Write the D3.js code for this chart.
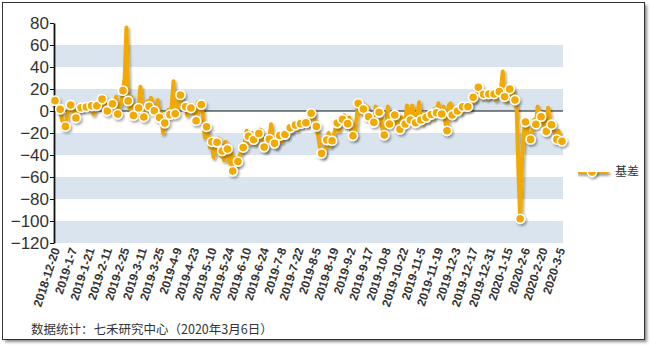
<!DOCTYPE html>
<html>
<head>
<meta charset="utf-8">
<script src="https://cdn.jsdelivr.net/npm/d3@7"></script>
<style>
  html, body { margin: 0; padding: 0; background: #fff; }
  svg { display: block; }
</style>
</head>
<body>
<svg id="chart" width="651" height="347"></svg>
<script>
// Category axis labels, one every ten trading days
const tickLabels = [
  "2018-12-20", "2019-1-7", "2019-1-21", "2019-2-11", "2019-2-25", "2019-3-11",
  "2019-3-25", "2019-4-9", "2019-4-23", "2019-5-10", "2019-5-24", "2019-6-10",
  "2019-6-24", "2019-7-8", "2019-7-22", "2019-8-5", "2019-8-19", "2019-9-2",
  "2019-9-17", "2019-10-8", "2019-10-22", "2019-11-5", "2019-11-19", "2019-12-3",
  "2019-12-17", "2019-12-31", "2020-1-15", "2020-2-6", "2020-2-20", "2020-3-5"
];
const tickStep = 10;

// Daily basis values (trading days, 2018-12-20 .. 2020-3-6)
const basis = [
  9.4, 5, 3, 1.6, -8, -12, -14, -4, 2, 5.5,
  1, -2, -6.3, -1, 4, 3, 1, 5, 3.7, 2,
  6, 4.7, -3, 2, 4.7, 7, 5, 10.8, 4, 7,
  0, 3, 1, 6.5, 2, 13, -2.8, 4, 8, 18.5,
  30, 76, 9.2, 2, 13, -4, 5, -2, 2.7, 22,
  3, -5.5, 0, 9, 4.3, 12, 6, 0.2, 3, 10,
  -6, -2, -20, -11, -6, 1, -3.3, 5, 27, -2.5,
  3, 8, 14.6, 9, 6, 3.9, -4, 6, 2.7, -2,
  1, -8.8, 8, 0, 5.8, -5, -24, -14.3, -22, -33,
  -28, -42, -35, -28.5, -25, -40, -36.3, -45, -28, -34.5,
  -47, -38, -54.6, -42, -50, -46, -40, -38, -33.2, -28,
  -18, -23, -30, -20, -26, -30, -24, -20.5, -17, -26,
  -32.8, -36, -30, -25.6, -12, -22, -29.4, -33, -26, -22.3,
  -28, -19, -21.4, -24, -18, -15.3, -19, -11, -12.8, -17,
  -9, -11.5, -14, -8, -10.7, -13, -5, -2, 0, -8,
  -14, -22, -32, -38.5, -41, -34, -26.4, -20, -32, -27,
  -22, -16, -11, -18, -10, -7.6, -4, -14, -11.5, -6,
  -19, -22.6, -24, -8, 7, 4, -2, 1.8, 5, 4,
  -5.2, -9, -4, -10.3, 4, -3, -1.2, -6, -17, -21.9,
  -14, 4, -11.8, -7, -12, -3.6, -9, -13, -16.7, -6,
  -15, -11.8, 5, -10, -8.2, 5, -6, -10.7, -3, 8,
  -8.2, -12, -2, -6, -9, -1, -3.2, -7, 2, -1.6,
  7, -4, -2.7, 4, -10, -18, 5, 7, -3.6, -6,
  2, 0, 1, -2, 3.9, 6, 1, 3.9, 2, 8,
  12.5, 9, 16, 21.6, 17, 12, 15.2, 18, 11, 15.5,
  13, 17, 15.5, 10, 14, 17.6, 20, 36, 13, 9,
  15, 20, 14, 18, 10, 2, -55, -98, -45, -20,
  -10, -15, -28, -25.8, -18, -8, -12, 4, -2, -5.2,
  -10, -14, -18.5, 3, -6, -12.5, -16, -20, -25.8, -18,
  -24, -27.5
];
const markerEvery = 3;

const yTicks = [-120, -100, -80, -60, -40, -20, 0, 20, 40, 60, 80];
const seriesName = "基差";
const sourceNote = "数据统计：七禾研究中心（2020年3月6日）";

const COLOR = "#F2A900";
const BAND = "#DAE4EF";

const svg = d3.select("#chart");

const plot = { left: 54, right: 563, top: 23, bottom: 243 };

const x = d3.scaleLinear().domain([0, basis.length - 1]).range([55, 562]);
const y = d3.scaleLinear().domain([-120, 80]).range([plot.bottom, plot.top]);

// drop shadows (user-space region so flat shapes keep their shadow)
const defs = svg.append("defs");
const sh = defs.append("filter").attr("id", "shadow")
  .attr("filterUnits", "userSpaceOnUse")
  .attr("x", 0).attr("y", 0).attr("width", 651).attr("height", 347);
sh.append("feDropShadow").attr("dx", 1.5).attr("dy", 2).attr("stdDeviation", 1.2)
  .attr("flood-color", "#000").attr("flood-opacity", 0.35);
const fs = defs.append("filter").attr("id", "frameShadow")
  .attr("x", "-5%").attr("y", "-5%").attr("width", "110%").attr("height", "110%");
fs.append("feGaussianBlur").attr("stdDeviation", 1.5);

// outer frame
svg.append("rect").attr("x", 5).attr("y", 5).attr("width", 642).attr("height", 337)
  .attr("fill", "#8a8a8a").attr("filter", "url(#frameShadow)");
svg.append("rect").attr("x", 2.5).attr("y", 2.5).attr("width", 642).attr("height", 337)
  .attr("fill", "#fff").attr("stroke", "#333").attr("stroke-width", 1);

// alternating horizontal bands
const bandStarts = d3.range(-120, 80, 40);
svg.append("g").selectAll("rect").data(bandStarts).join("rect")
  .attr("x", plot.left).attr("width", plot.right - plot.left)
  .attr("y", d => y(d + 20)).attr("height", d => y(d) - y(d + 20))
  .attr("fill", BAND);

// zero line
svg.append("line")
  .attr("x1", plot.left).attr("x2", plot.right)
  .attr("y1", y(0)).attr("y2", y(0))
  .attr("stroke", "#111").attr("stroke-width", 1.2);

// y axis
const yAxis = svg.append("g").attr("transform", `translate(${plot.left},0)`)
  .call(d3.axisLeft(y).tickValues(yTicks).tickSize(4).tickPadding(1).tickSizeOuter(0));
yAxis.select(".domain").attr("stroke", "#111").attr("stroke-width", 1.8);
yAxis.selectAll(".tick line").attr("stroke", "#111");
yAxis.selectAll("text")
  .attr("font-family", "'Liberation Sans', Arial, sans-serif")
  .attr("font-size", 17).attr("fill", "#333");

// x category labels
svg.append("g").selectAll("text").data(tickLabels).join("text")
  .attr("transform", (d, i) => `translate(${x(i * tickStep) + 1},${plot.bottom + 5}) rotate(-72)`)
  .attr("text-anchor", "end").attr("dy", "0.35em")
  .attr("font-family", "'Liberation Sans', Arial, sans-serif")
  .attr("font-size", 12).attr("font-weight", "bold").attr("fill", "#333")
  .text(d => d);

// series
const g = svg.append("g");
const line = d3.line().x((d, i) => x(i)).y(d => y(d));
g.append("path").datum(basis)
  .attr("d", line).attr("fill", "none")
  .attr("stroke", COLOR).attr("stroke-width", 4)
  .attr("stroke-linejoin", "round").attr("stroke-linecap", "round")
  .attr("filter", "url(#shadow)");

const marked = basis.map((v, i) => ({ v, i })).filter(d => d.i % markerEvery === 0);
g.append("g").attr("filter", "url(#shadow)")
  .selectAll("circle").data(marked).join("circle")
  .attr("cx", d => x(d.i)).attr("cy", d => y(d.v)).attr("r", 4.6)
  .attr("fill", COLOR).attr("stroke", "#fff").attr("stroke-width", 1.6);

// legend
const lg = svg.append("g").attr("transform", "translate(578,172)");
lg.append("line").attr("x1", 0).attr("x2", 29).attr("y1", 0).attr("y2", 0)
  .attr("stroke", COLOR).attr("stroke-width", 4).attr("stroke-linecap", "round")
  .attr("filter", "url(#shadow)");
lg.append("circle").attr("cx", 14).attr("cy", 0).attr("r", 4.6)
  .attr("fill", COLOR).attr("stroke", "#fff").attr("stroke-width", 1.6)
  .attr("filter", "url(#shadow)");
lg.append("text").attr("x", 37).attr("y", 0).attr("dy", "0.36em")
  .attr("font-family", "'Noto Sans CJK SC', sans-serif")
  .attr("font-size", 12).attr("fill", "#333").text(seriesName);

// source note
svg.append("text").attr("x", 31).attr("y", 329).attr("dy", "0.36em")
  .attr("font-family", "'Noto Sans CJK SC', sans-serif")
  .attr("font-size", 12.5).attr("fill", "#333").text(sourceNote);
</script>
</body>
</html>
